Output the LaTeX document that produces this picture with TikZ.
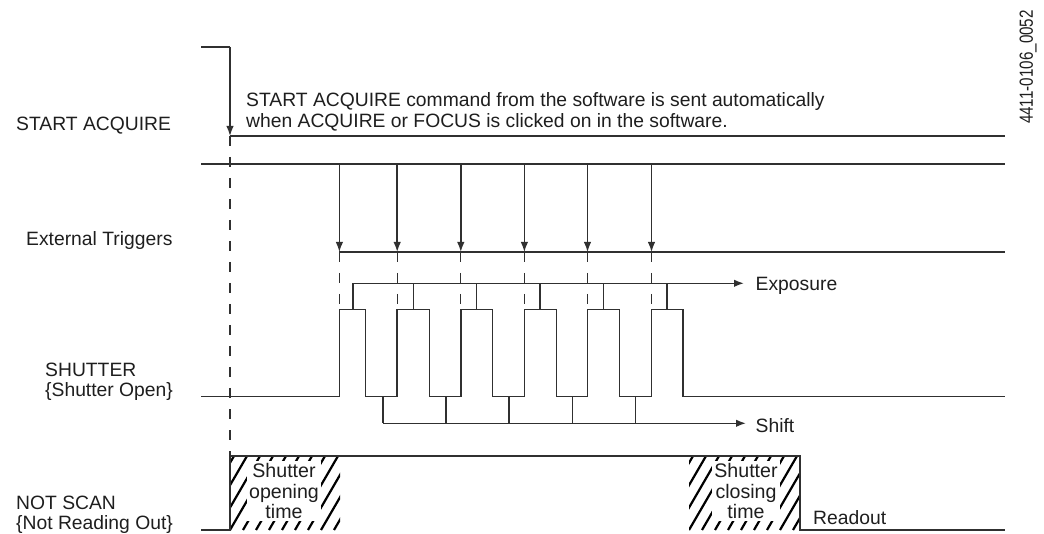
\documentclass[tikz,border=0pt]{standalone}
\usepackage{fontspec}
\setmainfont{Liberation Sans}
\usetikzlibrary{arrows.meta}
\definecolor{ln}{HTML}{303030}
\definecolor{tx}{HTML}{1E1E1E}
\tikzset{
  sig/.style={draw=ln, line width=1.5pt},
  dsh/.style={draw=ln, line width=1.3pt, dash pattern=on 10pt off 11pt},
  arr/.style={sig, -{Latex[length=10pt,width=7.5pt]}},
  lbl/.style={font=\fontsize{19.3}{20}\selectfont, text=tx, inner sep=0pt, anchor=base west},
  boxtxt/.style={font=\fontsize{19.6}{20.5}\selectfont, text=tx, fill=white, inner sep=2pt, align=center},
  hatchline/.style={draw=black, line width=2.2pt}
}
\begin{document}
\begin{tikzpicture}[x=1pt,y=-1pt]
\useasboundingbox (0,0) rectangle (1044,534);

% hatched boxes
\begin{scope}
  \clip (230,456) rectangle (340,530);
  \foreach \i in {-4,...,10} \draw[hatchline] (230+\i*13,530) -- ++(43,-74);
\end{scope}
\begin{scope}
  \clip (689,456) rectangle (800,530);
  \foreach \i in {-4,...,10} \draw[hatchline] (689+\i*13,530) -- ++(43,-74);
\end{scope}
\node[boxtxt] (open) at (284,491) {Shutter\\opening\\time};
\node[boxtxt] (close) at (746,491) {Shutter\\closing\\time};

% left labels
\node[lbl] (lsa) at (16,130.5) {START ACQUIRE};
\node[lbl] (let) at (26,245.7) {External Triggers};
\node[lbl] (lsh1) at (45,377) {SHUTTER};
\node[lbl] (lsh2) at (45,396.7) {\{Shutter Open\}};
\node[lbl] (lns1) at (16,509.3) {NOT SCAN};
\node[lbl] (lns2) at (16,529) {\{Not Reading Out\}};

% note
\node[lbl] (note1) at (246,107) {START ACQUIRE command from the software is sent automatically};
\node[lbl] (note2) at (246,128) {when ACQUIRE or FOCUS is clicked on in the software.};

% right labels
\node[lbl] (lexp) at (755.5,290.7) {Exposure};
\node[lbl] (lshift) at (755.5,432.3) {Shift};
\node[lbl] (lread) at (813,524) {Readout};

% figure id
\node[font=\fontsize{19}{19}\selectfont, text=tx, inner sep=0pt, rotate=90] (fid) at (1028,67) {\scalebox{0.8}[1]{4411-0106\_0052}};

% START ACQUIRE signal
\coordinate (sa0) at (201,47);
\coordinate (sa1) at (230,47);
\coordinate (sa2) at (230,136);
\coordinate (sa3) at (1005,136);
\draw[sig] (sa0) -- (sa1);
\draw[arr] (sa1) -- (sa2);
\draw[sig] (sa2) -- (sa3);
\coordinate (ns1) at (230,456);
\draw[dsh] (sa2) -- (ns1);

% External triggers
\draw[sig] (201,164) -- (1005,164);
\draw[sig] (339.4,252) -- (1005,252);
\foreach \x in {339.4,397.2,460.8,524.4,587.5,651.5} {
  \draw[arr] (\x,164) -- (\x,252);
  \draw[dsh] (\x,252) -- (\x,309.3);
}

% Shutter
\draw[sig] (201,396.7) -- (339.4,396.7) -- (339.4,309.3) -- (365.7,309.3) -- (365.7,396.7)
  -- (397.2,396.7) -- (397.2,309.3) -- (429.3,309.3) -- (429.3,396.7)
  -- (460.8,396.7) -- (460.8,309.3) -- (492.7,309.3) -- (492.7,396.7)
  -- (524.4,396.7) -- (524.4,309.3) -- (556.3,309.3) -- (556.3,396.7)
  -- (587.5,396.7) -- (587.5,309.3) -- (619.7,309.3) -- (619.7,396.7)
  -- (651.5,396.7) -- (651.5,309.3) -- (683,309.3) -- (683,396.7) -- (1005,396.7);

% Exposure
\draw[arr] (353,283.3) -- (744,283.3);
\foreach \x in {353,413.3,476.5,540,603.5,667.2}
  \draw[sig] (\x,283.3) -- (\x,309.3);

% Shift
\draw[arr] (383,423.3) -- (746,423.3);
\foreach \x in {383,446,509,572.5,635.5}
  \draw[sig] (\x,396.7) -- (\x,423.3);

% NOT SCAN
\draw[sig] (201,530) -- (230,530) -- (ns1) -- (800,456) -- (800,530) -- (1005,530);
\end{tikzpicture}
\end{document}
